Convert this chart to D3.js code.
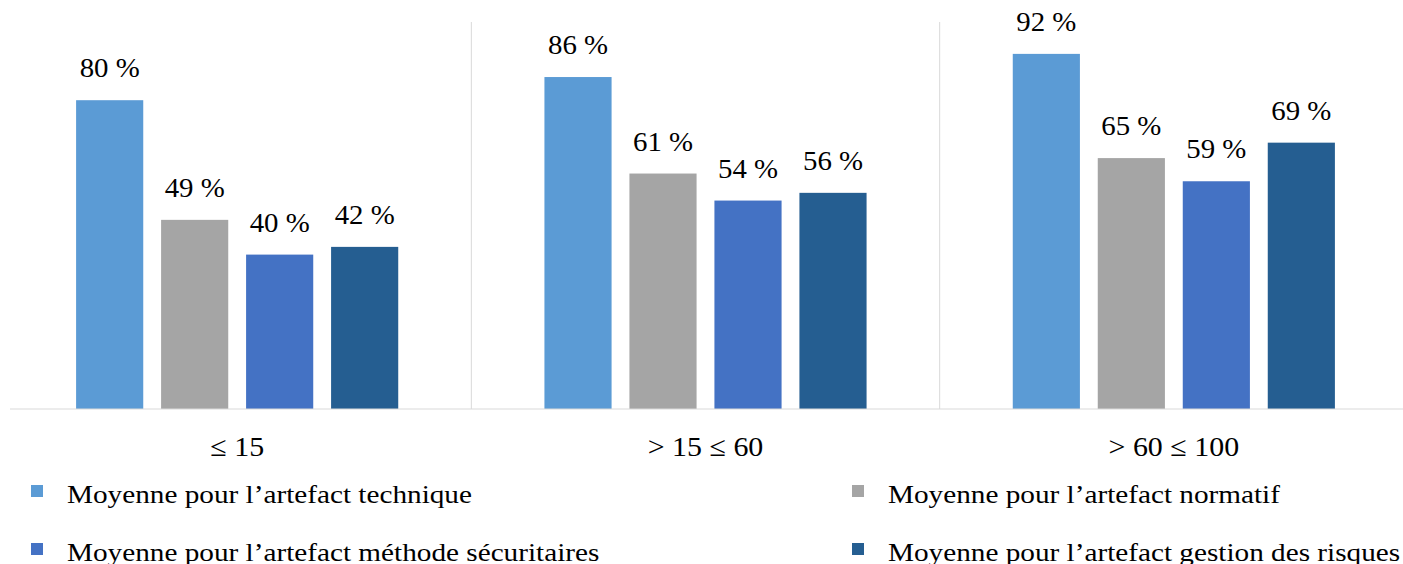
<!DOCTYPE html>
<html>
<head>
<meta charset="utf-8">
<script src="https://cdn.jsdelivr.net/npm/d3@7"></script>
<style>
  body { margin: 0; background: #fff; }
  text { font-family: "Liberation Serif", "Times New Roman", serif; fill: #000; }
</style>
</head>
<body>
<div id="chart"></div>
<script>
(function(){

var categories = ["\u2264 15", "> 15 \u2264 60", "> 60 \u2264 100"];
var seriesNames = [
  "Moyenne pour l\u2019artefact technique",
  "Moyenne pour l\u2019artefact normatif",
  "Moyenne pour l\u2019artefact m\u00e9thode s\u00e9curitaires",
  "Moyenne pour l\u2019artefact gestion des risques"
];
var technique = [80, 86, 92];
var normatif = [49, 61, 65];
var methode = [40, 54, 59];
var gestion = [42, 56, 69];
var colors = ["#5B9BD5", "#A5A5A5", "#4472C4", "#255E91"];

var series = [technique, normatif, methode, gestion];

var width = 1403, height = 564;

var svg = d3.select("#chart")
  .append("svg")
    .attr("width", width)
    .attr("height", height);

//group scale, one band per category
var x0 = d3.scaleBand()
  .domain(categories)
  .range([3, 1408])
  .padding(0);

//bar scale inside a group
var x1 = d3.scaleBand()
  .domain(d3.range(series.length))
  .range([0, x0.bandwidth()])
  .paddingInner(0.21)
  .paddingOuter(0.86);

var y = d3.scaleLinear()
  .domain([0, 100])
  .range([409, 23]);

//separators between groups
svg.selectAll("line.sep")
  .data(categories.slice(1))
  .enter()
  .append("line")
    .attr("x1", function(d){ return x0(d) })
    .attr("x2", function(d){ return x0(d) })
    .attr("y1", 22)
    .attr("y2", y(0))
    .style("stroke", "#d9d9d9")
    .style("stroke-width", 1);

var groups = svg.selectAll("g.group")
  .data(categories)
  .enter()
  .append("g")
    .attr("transform", function(d){ return "translate(" + x0(d) + ",0)" });

groups.selectAll("rect")
  .data(function(d, i){ return series.map(function(s, j){ return {k: j, v: s[i]} }) })
  .enter()
  .append("rect")
    .attr("x", function(d){ return x1(d.k) })
    .attr("y", function(d){ return y(d.v) })
    .attr("width", x1.bandwidth())
    .attr("height", function(d){ return y(0) - y(d.v) })
    .style("fill", function(d){ return colors[d.k] });

//value labels
groups.selectAll("text.val")
  .data(function(d, i){ return series.map(function(s, j){ return {k: j, v: s[i]} }) })
  .enter()
  .append("text")
    .attr("class", "val")
    .attr("transform", function(d){
      return "translate(" + (x1(d.k) + x1.bandwidth() / 2) + "," + (y(d.v) - 23) + ") scale(1.03,1)" })
    .attr("text-anchor", "middle")
    .attr("font-size", "28px")
    .text(function(d){ return d.v + " %" });

//baseline
svg.append("line")
  .attr("x1", 10)
  .attr("x2", width)
  .attr("y1", y(0))
  .attr("y2", y(0))
  .style("stroke", "#d9d9d9")
  .style("stroke-width", 1);

//category labels
svg.selectAll("text.cat")
  .data(categories)
  .enter()
  .append("text")
    .attr("class", "cat")
    .attr("transform", function(d){
      return "translate(" + (x0(d) + x0.bandwidth() / 2) + ",456) scale(1.07,1)" })
    .attr("text-anchor", "middle")
    .attr("font-size", "28px")
    .text(function(d){ return d });

//legend, two columns
var legendX = [31, 852], legendY = [491, 549];
var legend = svg.selectAll("g.legend")
  .data(seriesNames)
  .enter()
  .append("g")
    .attr("transform", function(d, i){
      return "translate(" + legendX[i % 2] + "," + legendY[Math.floor(i / 2)] + ")" });

legend.append("rect")
  .attr("x", 0)
  .attr("y", -6)
  .attr("width", 12)
  .attr("height", 12)
  .style("fill", function(d, i){ return colors[i] });

legend.append("text")
  .attr("transform", "translate(36,12) scale(1.17,1)")
  .attr("font-size", "25px")
  .text(function(d){ return d });

})();
</script>
</body>
</html>
